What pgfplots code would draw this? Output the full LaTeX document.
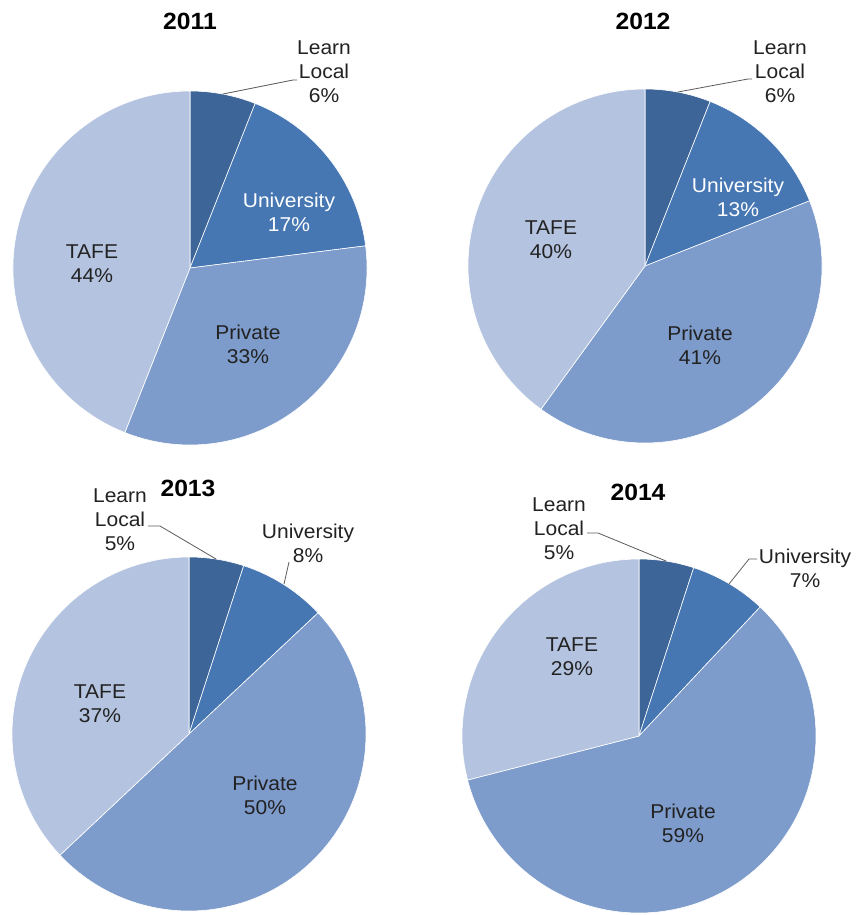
\documentclass[border=0pt]{standalone}
\usepackage{pgfplots}
\pgfplotsset{compat=1.18}
\usepackage{pgfplotstable}
\usepackage{fontspec}
\setmainfont{Liberation Sans}[FakeStretch=1.05]

\definecolor{cLL}{HTML}{3D6598}
\definecolor{cUni}{HTML}{4677B3}
\definecolor{cPriv}{HTML}{7D9BCB}
\definecolor{cTAFE}{HTML}{B4C4E0}
\definecolor{txt}{HTML}{222222}
\definecolor{lead}{HTML}{5A5A5A}

% shares in percent, clockwise from 12 o'clock
\pgfplotstableread{
sector share
LL 6
Uni 17
Priv 33
TAFE 44
}\tabA
\pgfplotstableread{
sector share
LL 6
Uni 13
Priv 41
TAFE 40
}\tabB
\pgfplotstableread{
sector share
LL 5
Uni 8
Priv 50
TAFE 37
}\tabC
\pgfplotstableread{
sector share
LL 5
Uni 7
Priv 59
TAFE 29
}\tabD

\newcommand{\drawpie}[3]{%
  \pgfplotstablegetrowsof{#1}%
  \pgfmathtruncatemacro\lastrow{\pgfplotsretval-1}%
  \gdef\startang{90}%
  \foreach \i in {0,...,\lastrow}{%
    \pgfplotstablegetelem{\i}{share}\of{#1}\let\val\pgfplotsretval
    \pgfplotstablegetelem{\i}{sector}\of{#1}\let\secname\pgfplotsretval
    \pgfmathsetmacro\endang{\startang-3.6*\val}%
    \filldraw[fill=c\secname, draw=white, line width=0.6pt]
      (axis cs:#2,#3) -- ++(\startang:177pt)
      arc[start angle=\startang, end angle=\endang, radius=177pt] -- cycle;
    \xdef\startang{\endang}%
  }%
}

\tikzset{
  lab/.style={align=center, text=txt, inner sep=0pt,
    font=\fontsize{20}{24}\selectfont},
  wlab/.style={lab, text=white},
  ttl/.style={inner sep=0pt, text=black,
    font=\fontsize{23.5}{26}\selectfont\bfseries},
  ld/.style={draw=lead, line width=0.8pt},
}

\begin{document}
\begin{tikzpicture}
\begin{axis}[
  width=857pt, height=915pt, scale only axis,
  xmin=0, xmax=857, ymin=0, ymax=915, y dir=reverse,
  hide axis, clip=false,
]
\pgfplotsextra{%
  \drawpie{\tabA}{190}{268}%
  \drawpie{\tabB}{645}{266}%
  \drawpie{\tabC}{189}{734}%
  \drawpie{\tabD}{639}{736}%
}

% titles
\node[ttl] at (axis cs:190,21) {2011};
\node[ttl] at (axis cs:643,21) {2012};
\node[ttl] at (axis cs:188,488) {2013};
\node[ttl] at (axis cs:638,492) {2014};

% 2011
\draw[ld] (axis cs:223,94) -- (axis cs:293,80) -- (axis cs:297,80);
\node[lab] at (axis cs:324,72) {Learn\\Local\\6\%};
\node[wlab] at (axis cs:289,212) {University\\17\%};
\node[lab] at (axis cs:92,264) {TAFE\\44\%};
\node[lab] at (axis cs:248,344) {Private\\33\%};

% 2012
\draw[ld] (axis cs:678,92) -- (axis cs:748,79) -- (axis cs:752,79);
\node[lab] at (axis cs:780,72) {Learn\\Local\\6\%};
\node[wlab] at (axis cs:738,197) {University\\13\%};
\node[lab] at (axis cs:551,240) {TAFE\\40\%};
\node[lab] at (axis cs:700,345) {Private\\41\%};

% 2013
\draw[ld] (axis cs:216,559) -- (axis cs:160,526) -- (axis cs:148,526);
\draw[ld] (axis cs:284,584) -- (axis cs:289,562);
\node[lab] at (axis cs:120,520) {Learn\\Local\\5\%};
\node[lab] at (axis cs:308,543) {University\\8\%};
\node[lab] at (axis cs:100,704) {TAFE\\37\%};
\node[lab] at (axis cs:265,795) {Private\\50\%};

% 2014
\draw[ld] (axis cs:666,561) -- (axis cs:598,533) -- (axis cs:587,533);
\draw[ld] (axis cs:729,584) -- (axis cs:749,559) -- (axis cs:757,559);
\node[lab] at (axis cs:559,529) {Learn\\Local\\5\%};
\node[lab] at (axis cs:805,568) {University\\7\%};
\node[lab] at (axis cs:572,657) {TAFE\\29\%};
\node[lab] at (axis cs:683,823) {Private\\59\%};
\end{axis}
\pgfresetboundingbox
\useasboundingbox (current axis.south west) rectangle (current axis.north east);
\end{tikzpicture}
\end{document}
